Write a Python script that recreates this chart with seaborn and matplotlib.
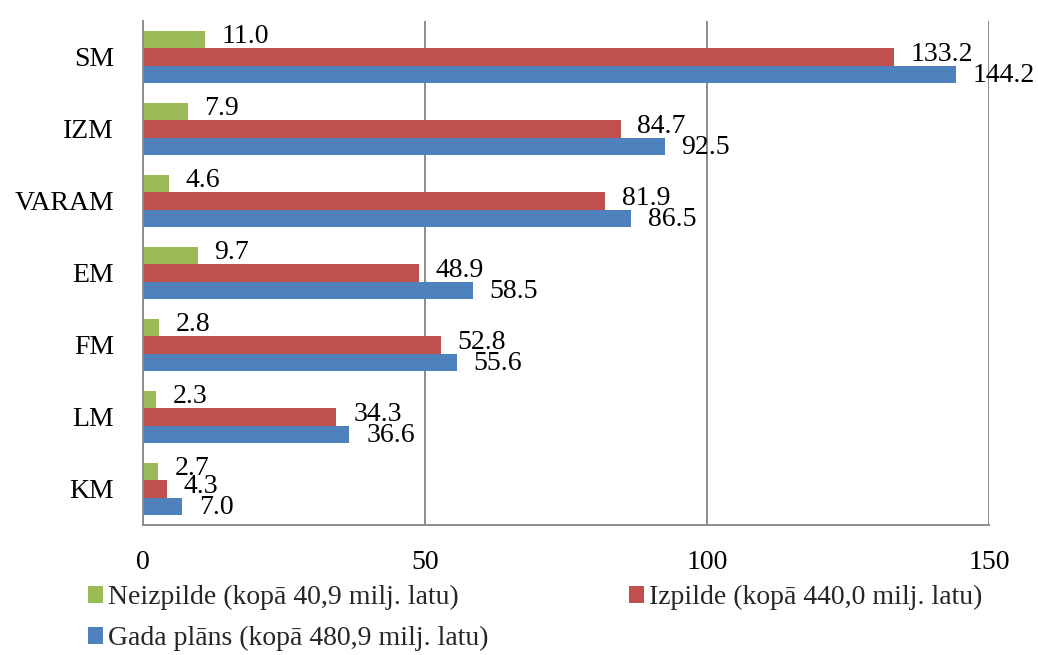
import pandas as pd
import matplotlib
matplotlib.use("Agg")
import matplotlib.pyplot as plt
import seaborn as sns

# Chart data
categories = ["SM", "IZM", "VARAM", "EM", "FM", "LM", "KM"]
neizpilde = [11.0, 7.9, 4.6, 9.7, 2.8, 2.3, 2.7]
izpilde = [133.2, 84.7, 81.9, 48.9, 52.8, 34.3, 4.3]
gada_plans = [144.2, 92.5, 86.5, 58.5, 55.6, 36.6, 7.0]
series_names = ["Neizpilde (kopā 40,9 milj. latu)",
                "Izpilde (kopā 440,0 milj. latu)",
                "Gada plāns (kopā 480,9 milj. latu)"]
colors = ["#9BBB59", "#C0504D", "#4F81BD"]
x_ticks = [0, 50, 100, 150]

# Long format table for seaborn
rows = []
for name, vals in zip(series_names, [neizpilde, izpilde, gada_plans]):
    for cat, v in zip(categories, vals):
        rows.append({"cat": cat, "val": v, "series": name})
df = pd.DataFrame(rows)

sns.set_theme(style="white")
plt.rcParams['font.family'] = ['Liberation Serif', 'DejaVu Serif']
fs = 20

fig = plt.figure(figsize=(10.38, 6.55), dpi=100)
ax = fig.add_axes([143 / 1038, 1 - 525 / 655, 846 / 1038, 504 / 655])

sns.barplot(data=df, y="cat", x="val", hue="series", order=categories,
            hue_order=series_names, palette=colors, orient="h",
            width=0.72, saturation=1, linewidth=0, errorbar=None,
            ax=ax, legend=True)

# Value labels (small vertical offsets, as in the Excel 3D chart)
label_dy = [2, 2, -1]
for cont, dy in zip(ax.containers, label_dy):
    for p in cont.patches:
        w = p.get_width()
        yc = p.get_y() + p.get_height() / 2
        ax.annotate(f"{w:.1f}", (w, yc), xytext=(12, dy),
                    textcoords="offset points", va="center", ha="left",
                    fontsize=fs, color="black")

ax.set_xlim(0, 150)
ax.set_xticks(x_ticks)
ax.set_xlabel("")
ax.set_ylabel("")
ax.tick_params(axis="x", labelsize=fs, length=0, pad=18, labelcolor="black")
ax.tick_params(axis="y", labelsize=fs, length=0, pad=21, labelcolor="black")
ax.xaxis.grid(True, color="#8C8C8C", linewidth=1.4)
ax.set_axisbelow(True)

# Category boundary ticks on the left axis
ax.set_yticks([i + 0.5 for i in range(-1, len(categories))], minor=True)
ax.tick_params(axis="y", which="minor", length=7, color="#8C8C8C", width=1.4)

for side in ["top", "right"]:
    ax.spines[side].set_visible(False)
for side in ["left", "bottom"]:
    ax.spines[side].set_color("#8C8C8C")
    ax.spines[side].set_linewidth(1.4)

# Legend below the plot, two columns
handles, labels = ax.get_legend_handles_labels()
ax.legend_.remove()
order = [0, 2, 1]
fig.legend([handles[i] for i in order], [labels[i] for i in order],
           loc="upper left", bbox_to_anchor=(88 / 1038, 1 - 585 / 655),
           ncol=2, frameon=False, fontsize=fs, handlelength=0.55,
           handleheight=0.55, handletextpad=0.18, columnspacing=5.05,
           labelspacing=0.58, borderpad=0, borderaxespad=0)

fig.savefig("out.png", dpi=100)
